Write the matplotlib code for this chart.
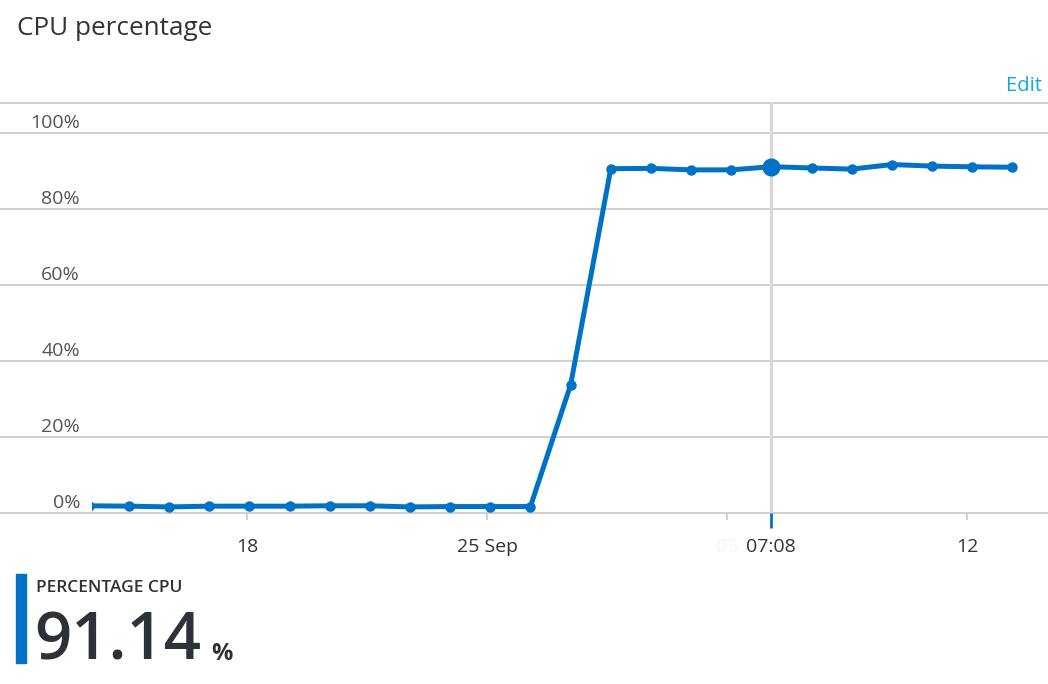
import numpy as np
import matplotlib
matplotlib.use('Agg')
from matplotlib import pyplot as plt

plt.rcParams['font.family'] = ['Open Sans', 'DejaVu Sans']

# data (one point per sample, x is sample index)
cpu_pct = [1.9, 1.8, 1.6, 1.8, 1.8, 1.8, 1.9, 1.9, 1.6, 1.7, 1.7, 1.7,
           33.7, 90.6, 90.7, 90.3, 90.3, 91.14, 90.8, 90.5, 91.7, 91.3, 91.1, 91.0]
x_idx = np.arange(len(cpu_pct))

y_ticks = [0, 20, 40, 60, 80, 100]
y_labels = ['0%', '20%', '40%', '60%', '80%', '100%']
x_ticks = [3.94, 9.92, 15.9, 21.88]
x_labels = ['18', '25 Sep', '05', '12']
cursor_idx = 17
cursor_label = '07:08'
current_value = '91.14'

blue = '#0072c6'
grid_c = '#cccccc'

W, H = 1048, 684
fig = plt.figure(figsize=(W / 100, H / 100), dpi=100)
ax = fig.add_axes([92 / W, (H - 513) / H, (W - 92) / W, 410 / H])
ax.set_xlim(0.08, 23.89)
ax.set_ylim(0, 107.9)

for s in ax.spines.values():
    s.set_visible(False)

# gridlines across the whole width, incl. the label area
for v in y_ticks + [107.9]:
    ax.axhline(v, xmin=-92 / 956, xmax=1, color=grid_c, lw=1.3, clip_on=False, zorder=1)

ax.set_yticks([])
for v, lab in zip(y_ticks, y_labels):
    ax.annotate(lab, xy=(-12 / 956, v), xycoords=('axes fraction', 'data'),
                xytext=(0, 5), textcoords='offset pixels', ha='right', va='baseline',
                fontsize=14, color='#555555', annotation_clip=False)

ax.set_xticks(x_ticks)
ax.set_xticklabels(x_labels)
ax.tick_params(axis='x', which='major', length=5, width=1.3, color=grid_c,
               labelsize=14, labelcolor='#333333', pad=13)
ax.get_xticklabels()[2].set_color('#f6f6f6')

ax.set_xticks([cursor_idx], minor=True)
ax.set_xticklabels([cursor_label], minor=True)
ax.tick_params(axis='x', which='minor', length=11, width=2, color=blue,
               labelsize=14, labelcolor='#333333', pad=7)
for t in ax.get_xticklabels(minor=True):
    t.set_bbox(dict(facecolor='white', edgecolor='none', pad=2))

# hover cursor
ax.axvline(cursor_idx, color='#d9d9d9', lw=2.5, zorder=2)

ax.plot(x_idx, cpu_pct, color=blue, lw=3.6, marker='o', markersize=6.5, zorder=3)
ax.plot([x_idx[cursor_idx]], [cpu_pct[cursor_idx]], 'o', color=blue, markersize=12, zorder=4)

# header
fig.text(17 / W, 1 - 35 / H, 'CPU percentage', fontsize=18.8, color='#333333', va='baseline')
fig.text(1042 / W, 1 - 91 / H, 'Edit', fontsize=14.5, color='#14a9e0', ha='right', va='baseline')

# summary block
fig.patches.append(plt.Rectangle((16 / W, 1 - 663 / H), 10 / W, 89 / H, color=blue,
                                 transform=fig.transFigure, figure=fig))
fig.text(36 / W, 1 - 592 / H, 'PERCENTAGE CPU', fontsize=12.5, color='#2d3138',
         va='baseline', weight='semibold')
fig.text(34 / W, 1 - 660 / H, current_value, fontsize=47, color='#2d3138',
         va='baseline', weight='semibold')
fig.text(211 / W, 1 - 660 / H, '%', fontsize=17, color='#2d3138', va='baseline', weight='bold')

fig.savefig('out.png', dpi=100)
